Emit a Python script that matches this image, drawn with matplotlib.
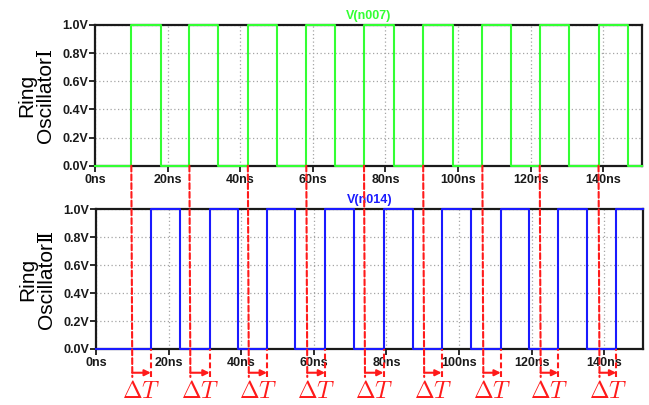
import numpy as np
import matplotlib
matplotlib.use("Agg")
import matplotlib.pyplot as plt
from matplotlib.patches import ConnectionPatch

plt.rcParams["mathtext.fontset"] = "cm"

# edge times (ns) of the two ring-oscillator outputs
n007_rise = [10.0, 26.0, 42.1, 58.2, 74.1, 90.4, 106.7, 122.5, 138.7]
n007_fall = [18.2, 34.0, 50.1, 66.2, 82.3, 98.7, 114.7, 130.6, 146.7]
n014_rise = [15.1, 31.3, 47.1, 63.1, 79.2, 95.2, 111.5, 127.3, 143.3]
n014_fall = [23.1, 39.2, 54.9, 71.2, 87.2, 103.2, 119.4, 135.2]
t_stop = 150.6
v_high = 1.0

x_ticks = [0, 20, 40, 60, 80, 100, 120, 140]
x_labels = ["0ns", "20ns", "40ns", "60ns", "80ns", "100ns", "120ns", "140ns"]
y_ticks = [0.0, 0.2, 0.4, 0.6, 0.8, 1.0]
y_labels = ["0.0V", "0.2V", "0.4V", "0.6V", "0.8V", "1.0V"]

GREEN = "#33ff33"
BLUE = "#1a1aff"
RED = "#ff1a1a"
DASH = (0, (2.8, 1.4))
LABEL_FONT = ["Liberation Sans", "DejaVu Serif", "Noto Sans CJK SC"]


def square_wave(rise, fall, t_end):
    edges = sorted([(t, v_high) for t in rise] + [(t, 0.0) for t in fall])
    t, v = [0.0], [0.0]
    for te, level in edges:
        t += [te, te]
        v += [v[-1], level]
    t.append(t_end)
    v.append(v[-1])
    return np.array(t), np.array(v)


def style_axes(ax):
    ax.set_xlim(0, t_stop)
    ax.set_ylim(0, v_high)
    ax.set_xticks(x_ticks)
    ax.set_xticklabels(x_labels, fontweight="bold", fontsize=9,
                       family="Liberation Sans")
    ax.set_yticks(y_ticks)
    ax.set_yticklabels(y_labels, fontweight="bold", fontsize=9,
                       family="Liberation Sans")
    ax.tick_params(axis="x", direction="out", length=4, width=1.3, pad=2,
                   colors="#1a1a1a")
    ax.tick_params(axis="y", direction="out", length=4, width=1.3, pad=0.8,
                   colors="#1a1a1a")
    ax.grid(True, linestyle=(0, (1, 2)), color="#a5a5a5", lw=0.9)
    for sp in ax.spines.values():
        sp.set_linewidth(1.6)
        sp.set_color("#1a1a1a")


fig = plt.figure(figsize=(6.49, 4.05), dpi=100)
ax1 = fig.add_axes([0.1464, 0.5909, 0.8424, 0.3474])
ax2 = fig.add_axes([0.1479, 0.1383, 0.8424, 0.3449])

t1, v1 = square_wave(n007_rise, n007_fall, t_stop)
t2, v2 = square_wave(n014_rise, n014_fall, t_stop)
ax1.plot(t1, v1, color=GREEN, lw=1.5, zorder=3, clip_on=False)
ax2.plot(t2, v2, color=BLUE, lw=1.5, zorder=3, clip_on=False)

for ax, name, col in [(ax1, "V(n007)", GREEN), (ax2, "V(n014)", BLUE)]:
    style_axes(ax)
    ax.text(0.5, 1.065, name, transform=ax.transAxes, ha="center",
            va="center", color=col, fontsize=9, fontweight="bold",
            family="Liberation Sans")

ax1.text(-0.108, 0.5, "Ring\nOscillator\u2160", transform=ax1.transAxes,
         rotation=90, ha="center", va="center", fontsize=15,
         linespacing=0.95, family=LABEL_FONT)
ax2.text(-0.108, 0.5, "Ring\nOscillator\u2161", transform=ax2.transAxes,
         rotation=90, ha="center", va="center", fontsize=15,
         linespacing=0.95, family=LABEL_FONT)

# dashed markers from the n007 rising edges down past the lower plot
y_end = -0.2
y_arrow = -0.17
for t in n007_rise:
    con = ConnectionPatch(xyA=(t, 0.0), coordsA=ax1.transData,
                          xyB=(t, y_end), coordsB=ax2.transData,
                          color=RED, lw=1.5, linestyle=DASH, zorder=5)
    fig.add_artist(con)

ax2.vlines(n014_rise, y_end, 0.0, colors=RED, lw=1.5, linestyles=[DASH],
           clip_on=False, zorder=5)

for g, b in zip(n007_rise, n014_rise):
    ax2.annotate("", xy=(b, y_arrow), xytext=(g, y_arrow),
                 annotation_clip=False,
                 arrowprops=dict(arrowstyle="-|>", color=RED, lw=1.5,
                                 shrinkA=0, shrinkB=0, mutation_scale=9))
    ax2.text((g + b) / 2, -0.3, r"$\Delta T$", color=RED, fontsize=17,
             ha="center", va="center", clip_on=False)

fig.savefig("out.png", dpi=100)
